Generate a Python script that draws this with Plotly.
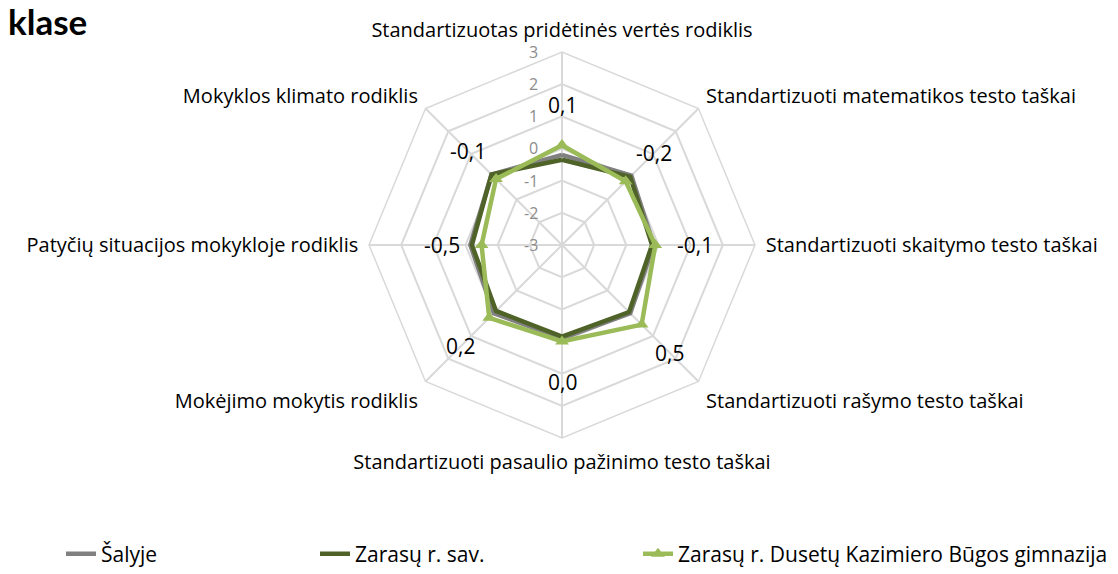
import math
import plotly.graph_objects as go

categories = [
    "Standartizuotas pridėtinės vertės rodiklis",
    "Standartizuoti matematikos testo taškai",
    "Standartizuoti skaitymo testo taškai",
    "Standartizuoti rašymo testo taškai",
    "Standartizuoti pasaulio pažinimo testo taškai",
    "Mokėjimo mokytis rodiklis",
    "Patyčių situacijos mokykloje rodiklis",
    "Mokyklos klimato rodiklis",
]
salyje = [-0.2, 0.05, -0.15, 0.0, -0.1, 0.0, -0.15, 0.1]
savivaldybe = [-0.35, 0.0, -0.2, -0.05, -0.15, -0.1, -0.2, 0.1]
gimnazija = [0.1, -0.2, -0.1, 0.5, 0.0, 0.2, -0.5, -0.1]
series_names = ["Šalyje", "Zarasų r. sav.", "Zarasų r. Dusetų Kazimiero Būgos gimnazija"]
radial_ticks = [-3, -2, -1, 0, 1, 2, 3]

FONT = "Open Sans"
W, H = 1118, 574
R_MIN, R_MAX = -3, 3

# polar placement (figure pixels)
PX0, PX1 = 361, 747
PY0, PY1 = 44, 430


def closed(v):
    return v + v[:1]


cats_c = closed(categories)
labels = [("%.1f" % v).replace(".", ",").replace("-0,0", "0,0") for v in gimnazija]

fig = go.Figure()
fig.add_trace(go.Scatterpolar(
    r=closed(salyje), theta=cats_c, mode="lines", name=series_names[0],
    line=dict(color="#808080", width=4.5), legend="legend", showlegend=True))
fig.add_trace(go.Scatterpolar(
    r=closed(savivaldybe), theta=cats_c, mode="lines", name=series_names[1],
    line=dict(color="#4F6228", width=4.5), legend="legend2", showlegend=True))
fig.add_trace(go.Scatterpolar(
    r=closed(gimnazija), theta=cats_c, mode="lines+markers", name=series_names[2],
    line=dict(color="#9BBB59", width=4.5),
    marker=dict(symbol="triangle-up", size=12, color="#9BBB59"),
    cliponaxis=True, legend="legend3", showlegend=True))

cx, cy = (PX0 + PX1) / 2, (PY0 + PY1) / 2
unit = (PX1 - PX0) / 2 / (R_MAX - R_MIN)
annotations = []

# data labels of the school series, placed just outside each point
n = len(categories)
for i, (v, lab) in enumerate(zip(gimnazija, labels)):
    ang = 2 * math.pi * i / n
    rp = (v - R_MIN) * unit + 40
    x = cx + rp * math.sin(ang)
    y = cy - rp * math.cos(ang)
    annotations.append(dict(
        text=lab, x=x / W, y=1 - y / H, xref="paper", yref="paper",
        xanchor="center", yanchor="middle", showarrow=False,
        font=dict(family=FONT, size=21, color="#000000")))

# radial axis value labels, left of the vertical spoke
for t in radial_ticks:
    y = cy - (t - R_MIN) * unit
    annotations.append(dict(
        text=str(t), x=(cx - 22) / W, y=1 - y / H, xref="paper", yref="paper",
        xanchor="right", yanchor="middle", showarrow=False,
        font=dict(family=FONT, size=16, color="#8C8C8C")))

annotations.append(dict(
    text="<b>klase</b>", x=0, y=1, xref="paper", yref="paper",
    xanchor="left", yanchor="top", showarrow=False, xshift=-2, yshift=10,
    font=dict(family="Lato", size=35, color="#000000")))

leg_common = dict(orientation="h", yanchor="middle", xanchor="left",
                  font=dict(family=FONT, size=21, color="#000000"),
                  bgcolor="rgba(0,0,0,0)", itemwidth=30, visible=True)

fig.update_layout(
    width=W, height=H,
    showlegend=True,
    margin=dict(l=0, r=0, t=0, b=0, autoexpand=False),
    paper_bgcolor="white", plot_bgcolor="white",
    font=dict(family=FONT, size=20, color="#000000"),
    polar=dict(
        domain=dict(x=[PX0 / W, PX1 / W], y=[1 - PY1 / H, 1 - PY0 / H]),
        bgcolor="white",
        gridshape="linear",
        angularaxis=dict(
            rotation=90, direction="clockwise",
            showline=True, linecolor="#D9D9D9", linewidth=1.5,
            gridcolor="#D9D9D9", gridwidth=1.5,
            ticks="outside", ticklen=6, tickcolor="rgba(0,0,0,0)",
            tickfont=dict(family=FONT, size=20, color="#000000"),
        ),
        radialaxis=dict(
            range=[R_MIN, R_MAX], tickvals=radial_ticks, angle=90,
            showticklabels=False, showline=False, ticks="",
            gridcolor="#D9D9D9", gridwidth=1.5,
        ),
    ),
    legend=dict(x=53 / W, y=1 - 546 / H, **leg_common),
    legend2=dict(x=307 / W, y=1 - 546 / H, **leg_common),
    legend3=dict(x=630 / W, y=1 - 546 / H, **leg_common),
    annotations=annotations,
)

fig.write_html("out.html")
